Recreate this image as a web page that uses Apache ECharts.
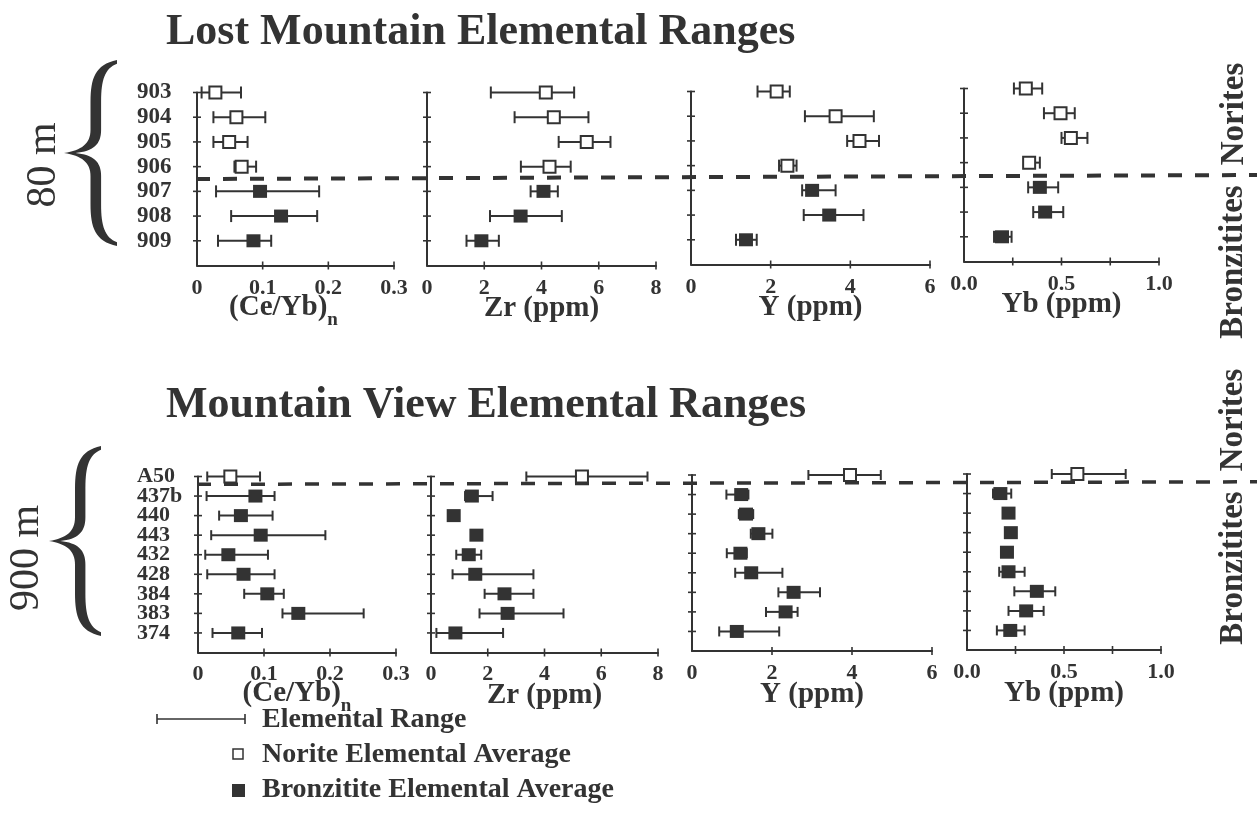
<!DOCTYPE html>
<html>
<head>
<meta charset="utf-8">
<script src="https://cdn.jsdelivr.net/npm/echarts@6/dist/echarts.min.js"></script>
<style>
  html, body { margin: 0; padding: 0; background: #fff; }
  #chart { width: 1259px; height: 832px; }
</style>
</head>
<body>
<div id="chart"></div>
<script>
// ---- Samples (listed top to bottom); N = norite, B = bronzitite ----
const lostMountainSamples = ['903', '904', '905', '906', '907', '908', '909'];
const lostMountainRock    = ['N', 'N', 'N', 'N', 'B', 'B', 'B'];
const mountainViewSamples = ['A50', '437b', '440', '443', '432', '428', '384', '383', '374'];
const mountainViewRock    = ['N', 'B', 'B', 'B', 'B', 'B', 'B', 'B', 'B'];

// ---- Lost Mountain: element averages and ranges ----
const lmCeYbAvg = [0.028, 0.060, 0.049, 0.068, 0.096, 0.128, 0.086];
const lmCeYbMin = [0.007, 0.025, 0.025, 0.057, 0.029, 0.052, 0.032];
const lmCeYbMax = [0.067, 0.104, 0.077, 0.090, 0.186, 0.183, 0.113];
const lmZrAvg = [4.15, 4.43, 5.58, 4.28, 4.07, 3.27, 1.90];
const lmZrMin = [2.23, 3.06, 4.60, 3.28, 3.62, 2.20, 1.38];
const lmZrMax = [5.14, 5.64, 6.41, 5.02, 4.57, 4.71, 2.51];
const lmYAvg = [2.15, 3.63, 4.23, 2.42, 3.04, 3.47, 1.38];
const lmYMin = [1.67, 2.86, 3.92, 2.21, 2.79, 2.83, 1.13];
const lmYMax = [2.48, 4.59, 4.72, 2.65, 3.63, 4.33, 1.65];
const lmYbAvg = [0.317, 0.495, 0.548, 0.334, 0.389, 0.416, 0.195];
const lmYbMin = [0.256, 0.410, 0.500, 0.312, 0.329, 0.355, 0.154];
const lmYbMax = [0.401, 0.568, 0.633, 0.389, 0.483, 0.509, 0.244];

// ---- Mountain View: element averages and ranges ----
const mvCeYbAvg = [0.049, 0.087, 0.065, 0.095, 0.046, 0.069, 0.105, 0.152, 0.061];
const mvCeYbMin = [0.014, 0.013, 0.032, 0.020, 0.011, 0.014, 0.070, 0.128, 0.022];
const mvCeYbMax = [0.094, 0.116, 0.113, 0.193, 0.106, 0.116, 0.130, 0.251, 0.097];
const mvZrAvg = [5.32, 1.44, 0.80, 1.60, 1.33, 1.56, 2.59, 2.70, 0.86];
const mvZrMin = [3.36, 1.20, 0.62, 1.42, 0.89, 0.76, 1.89, 1.71, 0.19];
const mvZrMax = [7.63, 2.17, 0.98, 1.78, 1.77, 3.61, 3.61, 4.67, 2.54];
const mvYAvg = [3.95, 1.23, 1.35, 1.66, 1.21, 1.48, 2.54, 2.34, 1.12];
const mvYMin = [2.91, 0.86, 1.17, 1.47, 0.87, 1.08, 2.16, 1.85, 0.68];
const mvYMax = [4.72, 1.41, 1.53, 2.01, 1.37, 2.26, 3.20, 2.64, 2.18];
const mvYbAvg = [0.569, 0.172, 0.214, 0.226, 0.206, 0.214, 0.360, 0.305, 0.223];
const mvYbMin = [0.437, 0.134, 0.196, 0.206, 0.190, 0.166, 0.244, 0.214, 0.154];
const mvYbMax = [0.818, 0.228, 0.232, 0.246, 0.222, 0.297, 0.455, 0.395, 0.297];

// ---- Axis ticks and their labels ----
const ceybTicks  = [0, 0.1, 0.2, 0.3];
const ceybLabels = ['0', '0.1', '0.2', '0.3'];
const zrTicks    = [0, 2, 4, 6, 8];
const zrLabels   = ['0', '2', '4', '6', '8'];
const yTicks     = [0, 2, 4, 6];
const yLabels    = ['0', '2', '4', '6'];
const ybTicks    = [0, 0.25, 0.5, 0.75, 1.0];
const ybLabels   = ['0.0', '', '0.5', '', '1.0'];

// Norite / bronzitite boundary, in row units
const lmDivider = 3.5;
const mvDivider = 0.4;

// ---------------------------------------------------------------
const INK = '#333';
const SERIF = "'Liberation Serif', 'DejaVu Serif', serif";

const elementAxes = [
  { ticks: ceybTicks, labels: ceybLabels, name: '{m|(Ce/Yb)}{s|n}', rich: true },
  { ticks: zrTicks,   labels: zrLabels,   name: 'Zr (ppm)' },
  { ticks: yTicks,    labels: yLabels,    name: 'Y (ppm)' },
  { ticks: ybTicks,   labels: ybLabels,   name: 'Yb (ppm)' }
];

const sites = [
  {
    samples: lostMountainSamples, rock: lostMountainRock, divider: lmDivider,
    elements: [
      { avg: lmCeYbAvg, min: lmCeYbMin, max: lmCeYbMax },
      { avg: lmZrAvg,   min: lmZrMin,   max: lmZrMax },
      { avg: lmYAvg,    min: lmYMin,    max: lmYMax },
      { avg: lmYbAvg,   min: lmYbMin,   max: lmYbMax }
    ],
    boxes: [
      { left: 197, top: 92.5, width: 197 },
      { left: 427, top: 92.5, width: 229 },
      { left: 691, top: 91.5, width: 239 },
      { left: 964, top: 88.5, width: 195 }
    ],
    height: 173, rowFont: 23, rowMargin: 60, cap: 6,
    labelMargin: 12, nameGap: 29, richGap: 20, richShift: 24
  },
  {
    samples: mountainViewSamples, rock: mountainViewRock, divider: mvDivider,
    elements: [
      { avg: mvCeYbAvg, min: mvCeYbMin, max: mvCeYbMax },
      { avg: mvZrAvg,   min: mvZrMin,   max: mvZrMax },
      { avg: mvYAvg,    min: mvYMin,    max: mvYMax },
      { avg: mvYbAvg,   min: mvYbMin,   max: mvYbMax }
    ],
    boxes: [
      { left: 198, top: 476.5, width: 198 },
      { left: 431, top: 476.5, width: 227 },
      { left: 692, top: 475,   width: 240 },
      { left: 967, top: 474,   width: 194 }
    ],
    height: 176, rowFont: 22, rowMargin: 61, cap: 5,
    labelMargin: 11, nameGap: 29, richGap: 19, richShift: 0
  }
];

function tickFormatter(ticks, labels) {
  return function (v) {
    const i = ticks.findIndex(t => Math.abs(t - v) < 1e-9);
    return i < 0 ? '' : labels[i];
  };
}

// horizontal range bar with end caps
function rangeRenderer(capHalf) {
  return function (params, api) {
    const row = api.value(2);
    const a = api.coord([api.value(0), row]);
    const b = api.coord([api.value(1), row]);
    const st = { stroke: INK, lineWidth: 2 };
    return {
      type: 'group',
      children: [
        { type: 'line', shape: { x1: a[0], y1: a[1], x2: b[0], y2: b[1] }, style: st },
        { type: 'line', shape: { x1: a[0], y1: a[1] - capHalf, x2: a[0], y2: a[1] + capHalf }, style: st },
        { type: 'line', shape: { x1: b[0], y1: b[1] - capHalf, x2: b[0], y2: b[1] + capHalf }, style: st }
      ]
    };
  };
}

// small ticks that cross the axis line (dir 0: on y axis, dir 1: on x axis)
function crossTickRenderer(params, api) {
  const p = api.coord([api.value(0), api.value(1)]);
  const dir = api.value(2);
  const h = 4;
  const shape = dir === 0
    ? { x1: p[0] - h, y1: p[1], x2: p[0] + h, y2: p[1] }
    : { x1: p[0], y1: p[1] - h, x2: p[0], y2: p[1] + h };
  return { type: 'line', shape: shape, style: { stroke: INK, lineWidth: 1.6 } };
}

const grids = [], xAxes = [], yAxes = [], series = [];

sites.forEach((site, r) => {
  const rows = site.samples.map((_, i) => i);
  const last = site.samples.length;          // empty slot below the last sample
  elementAxes.forEach((ax, p) => {
    const gi = r * 4 + p;
    const box = site.boxes[p];
    const el = site.elements[p];
    const tMin = ax.ticks[0], tMax = ax.ticks[ax.ticks.length - 1];

    grids.push({
      left: box.left, top: box.top, width: box.width, height: site.height,
      containLabel: false, outerBoundsMode: 'none'
    });

    const nameStyle = {
      fontFamily: SERIF, fontWeight: 'bold', fontSize: 29, color: INK
    };
    if (ax.rich) {
      nameStyle.padding = [0, site.richShift, 0, 0];
      nameStyle.rich = {
        m: { fontFamily: SERIF, fontWeight: 'bold', fontSize: 29, color: INK, lineHeight: 44, verticalAlign: 'middle' },
        s: { fontFamily: SERIF, fontWeight: 'bold', fontSize: 19, color: INK, verticalAlign: 'bottom' }
      };
    }

    xAxes.push({
      gridIndex: gi, type: 'value', position: 'bottom',
      min: tMin, max: tMax, interval: ax.ticks[1] - ax.ticks[0],
      axisLine: { show: true, onZero: false, lineStyle: { color: INK, width: 2 } },
      axisTick: { show: false },
      splitLine: { show: false },
      axisLabel: {
        margin: site.labelMargin, fontFamily: SERIF, fontWeight: 'bold',
        fontSize: 22, color: INK, formatter: tickFormatter(ax.ticks, ax.labels),
        showMinLabel: true, showMaxLabel: true, hideOverlap: false
      },
      name: ax.name, nameLocation: 'middle',
      nameGap: ax.rich ? site.richGap : site.nameGap,
      nameMoveOverlap: false,
      nameTextStyle: nameStyle
    });

    yAxes.push({
      gridIndex: gi, type: 'category', inverse: true, position: 'left',
      boundaryGap: false,
      data: site.samples.concat(['']),
      axisLine: { show: true, onZero: false, lineStyle: { color: INK, width: 2 } },
      axisTick: { show: false },
      splitLine: { show: false },
      axisLabel: p === 0 ? {
        show: true, interval: 0,
        align: 'left', margin: site.rowMargin,
        fontFamily: SERIF, fontWeight: 'bold', fontSize: site.rowFont, color: INK
      } : { show: false }
    });

    series.push({
      type: 'custom', coordinateSystem: 'cartesian2d',
      xAxisIndex: gi, yAxisIndex: gi, z: 2, silent: true,
      renderItem: rangeRenderer(site.cap),
      encode: { x: [0, 1], y: 2 },
      data: rows.map(i => [el.min[i], el.max[i], i])
    });

    series.push({
      type: 'custom', coordinateSystem: 'cartesian2d',
      xAxisIndex: gi, yAxisIndex: gi, z: 2, silent: true,
      renderItem: crossTickRenderer,
      encode: { x: 0, y: 1 },
      data: rows.map(i => [tMin, i, 0])
        .concat(ax.ticks.slice(1).map(t => [t, last, 1]))
    });

    series.push({
      type: 'scatter', xAxisIndex: gi, yAxisIndex: gi, z: 4, silent: true,
      symbol: 'rect', symbolSize: [12, 12],
      itemStyle: { color: '#fff', borderColor: INK, borderWidth: 2, opacity: 1 },
      data: rows.filter(i => site.rock[i] === 'N').map(i => [el.avg[i], i])
    });

    series.push({
      type: 'scatter', xAxisIndex: gi, yAxisIndex: gi, z: 4, silent: true,
      symbol: 'rect', symbolSize: [14, 13],
      itemStyle: { color: INK, opacity: 1 },
      data: rows.filter(i => site.rock[i] === 'B').map(i => [el.avg[i], i])
    });
  });
});

// curly brace outline (tip pointing left) in a 60 x 200 box, as cubic segments
const braceSegments = [
  ['M', 60, 0], ['C', 35, 5, 30, 20, 30, 45], ['L', 30, 75], ['C', 30, 90, 20, 97, 0, 100],
  ['C', 20, 103, 30, 110, 30, 125], ['L', 30, 155], ['C', 30, 180, 35, 195, 60, 200],
  ['L', 60, 196], ['C', 46, 191, 42, 178, 42, 156], ['L', 42, 125],
  ['C', 42, 109, 33, 102, 13, 100], ['C', 33, 98, 42, 91, 42, 75], ['L', 42, 44],
  ['C', 42, 22, 46, 9, 60, 4]
];

// flatten the brace outline into polygon points inside the given box
function bracePoints(x0, y0, w, h) {
  const sx = w / 60, sy = h / 200;
  const pts = [];
  let cx = 0, cy = 0;
  braceSegments.forEach(seg => {
    if (seg[0] === 'M' || seg[0] === 'L') {
      cx = seg[1]; cy = seg[2];
      pts.push([cx, cy]);
    } else {
      const [, x1, y1, x2, y2, x3, y3] = seg;
      for (let k = 1; k <= 16; k++) {
        const t = k / 16, u = 1 - t;
        pts.push([
          u * u * u * cx + 3 * u * u * t * x1 + 3 * u * t * t * x2 + t * t * t * x3,
          u * u * u * cy + 3 * u * u * t * y1 + 3 * u * t * t * y2 + t * t * t * y3
        ]);
      }
      cx = x3; cy = y3;
    }
  });
  return pts.map(p => [x0 + p[0] * sx, y0 + p[1] * sy]);
}

function label(text, x, y, size, opts) {
  return Object.assign({
    type: 'text', x: x, y: y, silent: true,
    style: Object.assign({
      text: text, fill: INK, fontFamily: SERIF, fontWeight: 'bold',
      fontSize: size, align: 'left', verticalAlign: 'middle'
    }, (opts && opts.style) || {})
  }, (opts && opts.el) || {});
}

const staticGraphics = [
  label('Lost Mountain Elemental Ranges', 166, 33, 44),
  label('Mountain View Elemental Ranges', 166, 406, 44),

  label('80 m', 44, 165, 42, { style: { fontWeight: 'normal', align: 'center' }, el: { rotation: Math.PI / 2 } }),
  label('900 m', 27, 558, 42, { style: { fontWeight: 'normal', align: 'center' }, el: { rotation: Math.PI / 2 } }),
  { type: 'polygon', silent: true, shape: { points: bracePoints(64, 60, 53, 186) }, style: { fill: INK } },
  { type: 'polygon', silent: true, shape: { points: bracePoints(49, 446, 52, 190) }, style: { fill: INK } },

  label('Norites', 1234, 114, 33, { style: { align: 'center' }, el: { rotation: Math.PI / 2 } }),
  label('Bronzitites', 1233, 262, 33, { style: { align: 'center' }, el: { rotation: Math.PI / 2 } }),
  label('Norites', 1233, 420, 33, { style: { align: 'center' }, el: { rotation: Math.PI / 2 } }),
  label('Bronzitites', 1233, 568, 33, { style: { align: 'center' }, el: { rotation: Math.PI / 2 } }),

  // key
  { type: 'line', silent: true, shape: { x1: 157, y1: 719, x2: 245, y2: 719 }, style: { stroke: INK, lineWidth: 1.6 } },
  { type: 'line', silent: true, shape: { x1: 157, y1: 714, x2: 157, y2: 724 }, style: { stroke: INK, lineWidth: 1.6 } },
  { type: 'line', silent: true, shape: { x1: 245, y1: 714, x2: 245, y2: 724 }, style: { stroke: INK, lineWidth: 1.6 } },
  label('Elemental Range', 262, 720, 28),
  { type: 'rect', silent: true, shape: { x: 233, y: 749, width: 10, height: 10 }, style: { fill: '#fff', stroke: INK, lineWidth: 1.5 } },
  label('Norite Elemental Average', 262, 755, 28),
  { type: 'rect', silent: true, shape: { x: 232, y: 784, width: 13, height: 13 }, style: { fill: INK } },
  label('Bronzitite Elemental Average', 262, 790, 28)
];

const chart = echarts.init(document.getElementById('chart'), null, { renderer: 'canvas' });
chart.setOption({
  backgroundColor: '#fff',
  animation: false,
  grid: grids,
  xAxis: xAxes,
  yAxis: yAxes,
  series: series,
  graphic: staticGraphics
});

// pixel position of a fractional row, interpolated between neighbouring rows
function rowPixel(gridIndex, row) {
  const lo = Math.floor(row), hi = lo + 1, f = row - lo;
  const a = chart.convertToPixel({ gridIndex: gridIndex }, [0, lo]);
  const b = chart.convertToPixel({ gridIndex: gridIndex }, [0, hi]);
  return [a[0], a[1] + (b[1] - a[1]) * f];
}

// dashed boundary across each row of panels
const dividers = sites.map((site, r) => {
  const a = rowPixel(r * 4, site.divider);
  const b = rowPixel(r * 4 + 3, site.divider);
  return {
    type: 'line', silent: true, z: 3,
    shape: { x1: a[0] - 1, y1: a[1], x2: 1257, y2: b[1] },
    style: { stroke: INK, lineWidth: r === 0 ? 4 : 3.5, lineDash: [14, 13] }
  };
});
chart.setOption({ graphic: staticGraphics.concat(dividers) });
</script>
</body>
</html>
